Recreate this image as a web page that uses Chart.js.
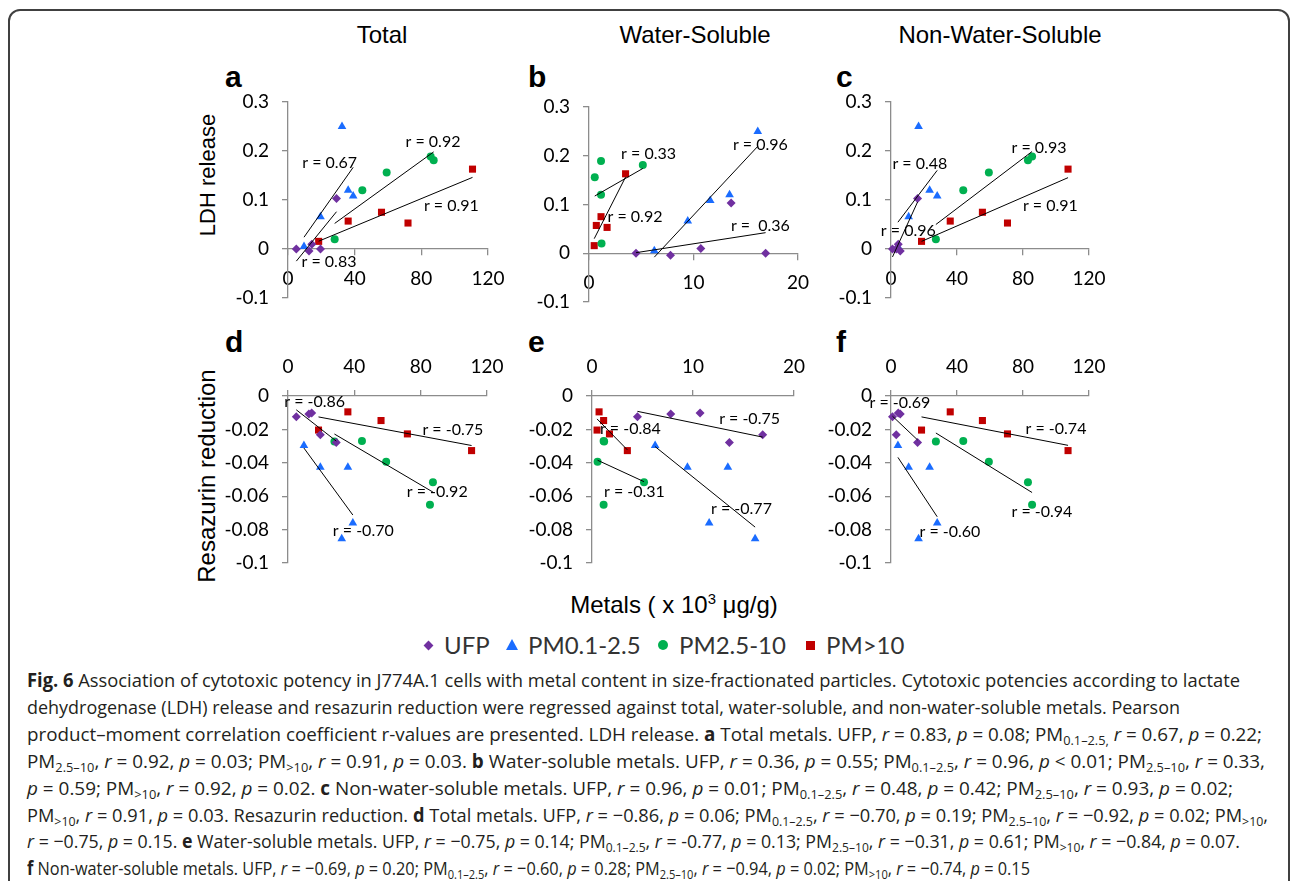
<!DOCTYPE html>
<html>
<head>
<meta charset="utf-8">
<title>Fig. 6</title>
<script src="https://cdn.jsdelivr.net/npm/chart.js@4.4.1/dist/chart.umd.min.js"></script>
<style>
  html, body { margin: 0; padding: 0; background: #fff; }
  body { width: 1292px; height: 881px; position: relative; overflow: hidden;
         font-family: "Liberation Sans", Arial, sans-serif; color: #000; }
  .frame { position: absolute; left: 8px; top: 9px; width: 1278px; height: 940px;
           border: 2px solid #404040; border-radius: 12px; }
  .txt { position: absolute; line-height: 1; white-space: nowrap; }
  .col-title { font-size: 24px; width: 300px; text-align: center; }
  .letter { font-size: 30px; font-weight: bold; }
  .ytitle { transform: translate(-50%, -50%) rotate(-90deg); }
  .xtitle { font-size: 24px; transform: translate(-50%, -50%); }
  .xtitle sup { font-size: 0.62em; vertical-align: 0.6em; line-height: 0; }
  canvas { position: absolute; }
  .legend-text { position: absolute; font-family: Lato, sans-serif; font-size: 24px; line-height: 1;
                 color: #333; transform: translateY(-50%); white-space: nowrap; }
  .sym { position: absolute; }
  .caption-line { position: absolute; left: 27px; font-family: "Open Sans", sans-serif; font-size: 19px;
                  line-height: 1; white-space: nowrap; transform-origin: 0 50%; color: #231f20; }
  .caption-line sub { font-size: 0.68em; vertical-align: -0.3em; line-height: 0; }
</style>
</head>
<body>
<div class="frame"></div>

<div class="txt col-title" style="left:232px;top:23px">Total</div>
<div class="txt col-title" style="left:545px;top:23px">Water-Soluble</div>
<div class="txt col-title" style="left:850px;top:23px">Non-Water-Soluble</div>

<div class="txt letter" style="left:225px;top:62px">a</div>
<div class="txt letter" style="left:528px;top:62px">b</div>
<div class="txt letter" style="left:836px;top:62px">c</div>
<div class="txt letter" style="left:225px;top:327px">d</div>
<div class="txt letter" style="left:528px;top:327px">e</div>
<div class="txt letter" style="left:836px;top:327px">f</div>

<div class="txt ytitle" style="left:208px;top:175px;font-size:22px">LDH release</div>
<div class="txt ytitle" style="left:207px;top:476px;font-size:24px">Resazurin reduction</div>
<div class="txt xtitle" style="left:674px;top:605px">Metals ( x 10<sup>3</sup> μg/g)</div>

<div id="legend"></div>

<div class="caption-line" data-right="1240" style="top:671px"><b>Fig. 6</b> Association of cytotoxic potency in J774A.1 cells with metal content in size-fractionated particles. Cytotoxic potencies according to lactate</div>
<div class="caption-line" data-right="1180" style="top:698px">dehydrogenase (LDH) release and resazurin reduction were regressed against total, water-soluble, and non-water-soluble metals. Pearson</div>
<div class="caption-line" data-right="1262" style="top:725px">product–moment correlation coefficient r-values are presented. LDH release. <b>a</b> Total metals. UFP, <i>r</i> = 0.83, <i>p</i> = 0.08; PM<sub>0.1–2.5,</sub> <i>r</i> = 0.67, <i>p</i> = 0.22;</div>
<div class="caption-line" data-right="1265" style="top:752px">PM<sub>2.5–10</sub>, <i>r</i> = 0.92, <i>p</i> = 0.03; PM<sub>&gt;10</sub>, <i>r</i> = 0.91, <i>p</i> = 0.03. <b>b</b> Water-soluble metals. UFP, <i>r</i> = 0.36, <i>p</i> = 0.55; PM<sub>0.1–2.5</sub>, <i>r</i> = 0.96, <i>p</i> &lt; 0.01; PM<sub>2.5–10</sub>, <i>r</i> = 0.33,</div>
<div class="caption-line" data-right="1233" style="top:779px"><i>p</i> = 0.59; PM<sub>&gt;10</sub>, <i>r</i> = 0.92, <i>p</i> = 0.02. <b>c</b> Non-water-soluble metals. UFP, <i>r</i> = 0.96, <i>p</i> = 0.01; PM<sub>0.1–2.5</sub>, <i>r</i> = 0.48, <i>p</i> = 0.42; PM<sub>2.5–10</sub>, <i>r</i> = 0.93, <i>p</i> = 0.02;</div>
<div class="caption-line" data-right="1268" style="top:806px">PM<sub>&gt;10</sub>, <i>r</i> = 0.91, <i>p</i> = 0.03. Resazurin reduction. <b>d</b> Total metals. UFP, <i>r</i> = −0.86, <i>p</i> = 0.06; PM<sub>0.1–2.5</sub>, <i>r</i> = −0.70, <i>p</i> = 0.19; PM<sub>2.5–10</sub>, <i>r</i> = −0.92, <i>p</i> = 0.02; PM<sub>&gt;10</sub>,</div>
<div class="caption-line" data-right="1240" style="top:832px"><i>r</i> = −0.75, <i>p</i> = 0.15. <b>e</b> Water-soluble metals. UFP, <i>r</i> = −0.75, <i>p</i> = 0.14; PM<sub>0.1–2.5</sub>, <i>r</i> = -0.77, <i>p</i> = 0.13; PM<sub>2.5–10</sub>, <i>r</i> = −0.31, <i>p</i> = 0.61; PM<sub>&gt;10</sub>, <i>r</i> = −0.84, <i>p</i> = 0.07.</div>
<div class="caption-line" data-right="1030" style="top:859px"><b>f</b> Non-water-soluble metals. UFP, <i>r</i> = −0.69, <i>p</i> = 0.20; PM<sub>0.1–2.5</sub>, <i>r</i> = −0.60, <i>p</i> = 0.28; PM<sub>2.5–10</sub>, <i>r</i> = −0.94, <i>p</i> = 0.02; PM<sub>&gt;10</sub>, <i>r</i> = −0.74, <i>p</i> = 0.15</div>

<script>
// Fig. 6 - cytotoxic potency vs metal content, six scatter panels

// metals (x 10^3 ug/g), five samples per size fraction, same sample order everywhere
const ufpTotal     = [5.0, 12.6, 14.3, 19.5, 29.1];
const ufpWater     = [4.5, 7.8, 10.7, 16.9, 13.6];
const ufpNonWater  = [0.9, 5.6, 4.4, 3.2, 16.1];
const pm01Total    = [9.6, 19.5, 32.4, 36.1, 39.1];
const pm01Water    = [6.25, 9.45, 16.15, 13.45, 11.6];
const pm01NonWater = [4.2, 10.7, 16.7, 23.4, 28.0];
const pm25Total    = [28.0, 44.6, 59.2, 85.6, 87.4];
const pm25Water    = [1.2, 1.15, 0.55, 1.15, 5.15];
const pm25NonWater = [27.2, 43.8, 59.3, 85.5, 83.0];
const pm10Total    = [18.4, 36.1, 56.1, 72.0, 110.7];
const pm10Water    = [0.5, 0.7, 1.15, 1.73, 3.5];
const pm10NonWater = [18.5, 35.9, 55.4, 70.6, 107.3];

// LDH release
const ufpLdh  = [0, -0.004, 0.0095, 0, 0.103];
const pm01Ldh = [0.005, 0.066, 0.25, 0.12, 0.108];
const pm25Ldh = [0.02, 0.12, 0.156, 0.189, 0.181];
const pm10Ldh = [0.0156, 0.057, 0.075, 0.053, 0.163];

// resazurin reduction
const ufpRes  = [-0.0124, -0.0108, -0.0102, -0.0232, -0.0279];
const pm01Res = [-0.0297, -0.0426, -0.0855, -0.0426, -0.076];
const pm25Res = [-0.0273, -0.0269, -0.0394, -0.0651, -0.0516];
const pm10Res = [-0.0204, -0.0095, -0.0147, -0.0227, -0.0327];

// axis ticks
const xTicksMetals = [0, 40, 80, 120];
const xTicksWater  = [0, 10, 20];
const yTicksLdh    = [-0.1, 0, 0.1, 0.2, 0.3];
const yTicksRes    = [-0.1, -0.08, -0.06, -0.04, -0.02, 0];

// r labels: text, x, y (in data units of each panel)
const rLabelsA = [['r = 0.83', 24.6, -0.026], ['r = 0.67', 25, 0.176], ['r = 0.92', 87, 0.218], ['r = 0.91', 98, 0.088]];
const rLabelsB = [['r =  0.36', 16.4, 0.057], ['r = 0.96', 16.4, 0.223], ['r = 0.33', 5.7, 0.204], ['r = 0.92', 4.4, 0.074]];
const rLabelsC = [['r = 0.96', 10.5, 0.037], ['r = 0.48', 17.5, 0.174], ['r = 0.93', 89.7, 0.207], ['r = 0.91', 96.6, 0.088]];
const rLabelsD = [['r = -0.86', 16.1, -0.0034], ['r = -0.70', 45.4, -0.081], ['r = -0.92', 90, -0.0576], ['r = -0.75', 99.4, -0.02]];
const rLabelsE = [['r = -0.75', 15.6, -0.0135], ['r = -0.77', 14.8, -0.0675], ['r = -0.31', 4.2, -0.0576], ['r = -0.84', 3.8, -0.0197]];
const rLabelsF = [['r = -0.69', 5.4, -0.004], ['r = -0.60', 35.7, -0.0815], ['r = -0.94', 91.5, -0.0695], ['r = -0.74', 100, -0.0197]];

const AXIS = '#8c8c8c';
const fractions = [
  { name: 'UFP', color: '#7030A0', style: 'rectRot', radius: 4.5,
    Total: ufpTotal, Water: ufpWater, NonWater: ufpNonWater, Ldh: ufpLdh, Res: ufpRes },
  { name: 'PM0.1-2.5', color: '#1A6CFF', style: 'triangle', radius: 5,
    Total: pm01Total, Water: pm01Water, NonWater: pm01NonWater, Ldh: pm01Ldh, Res: pm01Res },
  { name: 'PM2.5-10', color: '#00B050', style: 'circle', radius: 4,
    Total: pm25Total, Water: pm25Water, NonWater: pm25NonWater, Ldh: pm25Ldh, Res: pm25Res },
  { name: 'PM>10', color: '#C00000', style: 'rect', radius: 5,
    Total: pm10Total, Water: pm10Water, NonWater: pm10NonWater, Ldh: pm10Ldh, Res: pm10Res }
];

// plot area of each panel on the page: left, right, top, bottom
const panels = [
  { xs: 'Total',    ys: 'Ldh', xTicks: xTicksMetals, yTicks: yTicksLdh, area: [288, 488, 102, 298], labels: rLabelsA },
  { xs: 'Water',    ys: 'Ldh', xTicks: xTicksWater,  yTicks: yTicksLdh, area: [589, 798, 107, 302], labels: rLabelsB },
  { xs: 'NonWater', ys: 'Ldh', xTicks: xTicksMetals, yTicks: yTicksLdh, area: [891, 1089, 102, 298], labels: rLabelsC },
  { xs: 'Total',    ys: 'Res', xTicks: xTicksMetals, yTicks: yTicksRes, area: [288, 487, 396, 563], labels: rLabelsD },
  { xs: 'Water',    ys: 'Res', xTicks: xTicksWater,  yTicks: yTicksRes, area: [592, 794, 396, 563], labels: rLabelsE },
  { xs: 'NonWater', ys: 'Res', xTicks: xTicksMetals, yTicks: yTicksRes, area: [891, 1089, 396, 563], labels: rLabelsF }
];

const PAD = { left: 10, right: 30, top: 20, bottom: 40 };
const Y_AXIS_W = 72;
const X_AXIS_H = 44;

// excel style linear trendline over the x range of the series
function trendline(xs, ys) {
  const n = xs.length;
  const mx = xs.reduce((a, b) => a + b, 0) / n;
  const my = ys.reduce((a, b) => a + b, 0) / n;
  let sxy = 0, sxx = 0;
  for (let i = 0; i < n; i++) {
    sxy += (xs[i] - mx) * (ys[i] - my);
    sxx += (xs[i] - mx) * (xs[i] - mx);
  }
  const slope = sxy / sxx;
  const x0 = Math.min(...xs), x1 = Math.max(...xs);
  return [{ x: x0, y: my + slope * (x0 - mx) }, { x: x1, y: my + slope * (x1 - mx) }];
}

const rLabelPlugin = {
  id: 'rLabels',
  afterDatasetsDraw(chart, args, opts) {
    const { ctx, scales } = chart;
    ctx.save();
    ctx.font = '16px Lato';
    ctx.fillStyle = '#000';
    ctx.textAlign = 'center';
    ctx.textBaseline = 'middle';
    opts.items.forEach(item => {
      ctx.fillText(item[0], scales.x.getPixelForValue(item[1]), scales.y.getPixelForValue(item[2]));
    });
    ctx.restore();
  }
};

function fmt(v) { return String(Math.round(v * 1000) / 1000); }

panels.forEach(p => {
  const [L, R, T, B] = p.area;
  const xTop = p.ys === 'Res';
  const left = L - Y_AXIS_W - PAD.left;
  const top = T - PAD.top - (xTop ? X_AXIS_H : 0);
  const canvas = document.createElement('canvas');
  canvas.width = R + PAD.right - left;
  canvas.height = B + PAD.bottom - top;
  canvas.style.left = left + 'px';
  canvas.style.top = top + 'px';
  document.body.appendChild(canvas);

  const lineSets = fractions.map(f => ({
    data: trendline(f[p.xs], f[p.ys]),
    showLine: true, borderColor: '#000', borderWidth: 1,
    pointRadius: 0, order: 0, clip: false
  }));
  const pointSets = fractions.map(f => ({
    label: f.name,
    data: f[p.xs].map((x, i) => ({ x: x, y: f[p.ys][i] })),
    pointStyle: f.style, pointRadius: f.radius,
    backgroundColor: f.color, borderColor: f.color, borderWidth: 0,
    order: 1, clip: false
  }));

  const tickFont = { family: 'Lato', size: 19 };
  const gridOpts = { drawOnChartArea: false, drawTicks: true, tickLength: 6, color: AXIS, lineWidth: 1.3 };
  const xMin = p.xTicks[0], xMax = p.xTicks[p.xTicks.length - 1];
  const yMin = p.yTicks[0], yMax = p.yTicks[p.yTicks.length - 1];

  new Chart(canvas.getContext('2d'), {
    type: 'scatter',
    data: { datasets: lineSets.concat(pointSets) },
    options: {
      responsive: false,
      animation: false,
      events: [],
      layout: { padding: PAD },
      plugins: { legend: { display: false }, tooltip: { enabled: false }, rLabels: { items: p.labels } },
      scales: {
        x: {
          type: 'linear', min: xMin, max: xMax,
          position: xTop ? 'top' : { y: 0 },
          afterBuildTicks: s => { s.ticks = p.xTicks.map(v => ({ value: v })); },
          ticks: { color: '#000', font: tickFont, padding: 12, maxRotation: 0, autoSkip: false },
          grid: gridOpts,
          border: { color: AXIS, width: 1.3 },
          afterFit: s => {
            s.height = xTop ? X_AXIS_H : 0;
            s.paddingLeft = s.paddingRight = s.paddingTop = s.paddingBottom = 0;
          }
        },
        y: {
          type: 'linear', min: yMin, max: yMax, position: 'left',
          afterBuildTicks: s => { s.ticks = p.yTicks.map(v => ({ value: v })); },
          ticks: { color: '#000', font: tickFont, padding: 13, callback: fmt },
          grid: gridOpts,
          border: { color: AXIS, width: 1.3 },
          afterFit: s => {
            s.width = Y_AXIS_W;
            s.paddingLeft = s.paddingRight = s.paddingTop = s.paddingBottom = 0;
          }
        }
      }
    },
    plugins: [rLabelPlugin]
  });
});

// legend row under the axis title
const legendX = [428, 512, 663, 810];
const legendBox = document.getElementById('legend');
fractions.forEach((f, i) => {
  const cx = legendX[i], cy = 645;
  const sym = document.createElement('div');
  sym.className = 'sym';
  if (f.style === 'triangle') {
    sym.style.cssText = `left:${cx - 6}px;top:${cy - 6}px;width:0;height:0;border-left:6px solid transparent;border-right:6px solid transparent;border-bottom:11px solid ${f.color};`;
  } else if (f.style === 'rectRot') {
    sym.style.cssText = `left:${cx - 3.5}px;top:${cy - 3.5}px;width:7px;height:7px;background:${f.color};transform:rotate(45deg);`;
  } else if (f.style === 'circle') {
    sym.style.cssText = `left:${cx - 5}px;top:${cy - 5}px;width:10px;height:10px;border-radius:50%;background:${f.color};`;
  } else {
    sym.style.cssText = `left:${cx - 4.5}px;top:${cy - 4.5}px;width:9px;height:9px;background:${f.color};`;
  }
  legendBox.appendChild(sym);
  const t = document.createElement('div');
  t.className = 'legend-text';
  t.style.left = (cx + 16) + 'px';
  t.style.top = cy + 'px';
  t.textContent = f.name;
  legendBox.appendChild(t);
});

// squeeze caption lines to the widths of the printed lines
document.querySelectorAll('.caption-line').forEach(el => {
  const target = +el.dataset.right - 27;
  const w = el.getBoundingClientRect().width;
  el.style.transform = `scaleX(${target / w})`;
});
</script>
</body>
</html>
